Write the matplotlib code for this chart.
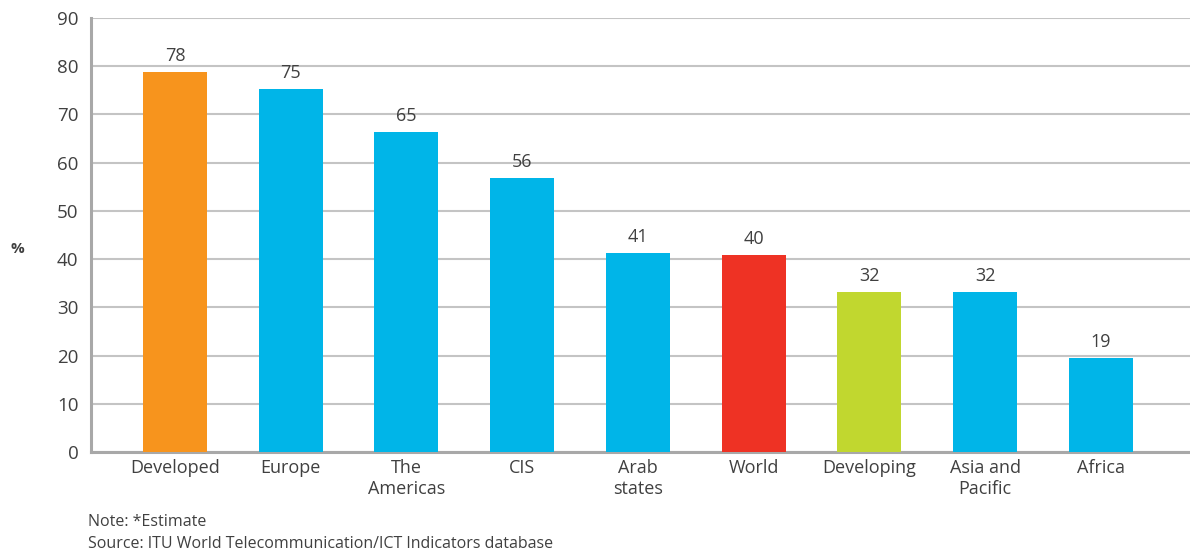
import matplotlib.pyplot as plt

# data
regions = ["Developed", "Europe", "The\nAmericas", "CIS", "Arab\nstates", "World",
           "Developing", "Asia and\nPacific", "Africa"]
heights = [78.8, 75.3, 66.3, 56.9, 41.3, 40.8, 33.2, 33.2, 19.5]
value_labels = ["78", "75", "65", "56", "41", "40", "32", "32", "19"]
bar_colors = ["#F7941D", "#00B5E8", "#00B5E8", "#00B5E8", "#00B5E8",
              "#EE3224", "#C1D72F", "#00B5E8", "#00B5E8"]
yticks = [0, 10, 20, 30, 40, 50, 60, 70, 80, 90]

text_col = "#404040"
plt.rcParams['font.family'] = ['Open Sans', 'DejaVu Sans']

fig = plt.figure(figsize=(11.9, 5.55), dpi=100)
ax = fig.add_axes([91/1190, 103/555, 1 - 91/1190, 434/555])

x = list(range(len(regions)))
ax.bar(x, heights, width=0.553, color=bar_colors, zorder=3)

for xi, h, lab in zip(x, heights, value_labels):
    ax.annotate(lab, (xi, h), xytext=(0, 5), textcoords="offset points",
                ha="center", va="bottom", fontsize=13, color=text_col)

ax.set_xlim(-0.726, 8.77)
ax.set_ylim(0, 90)
ax.set_yticks(yticks)
ax.set_xticks(x)
ax.set_xticklabels(regions, fontsize=13, color=text_col, linespacing=1.2)
ax.tick_params(axis="y", labelsize=13.5, labelcolor=text_col, length=0, pad=9)
ax.tick_params(axis="x", length=0, pad=5)

ax.grid(axis="y", color="#C4C4C4", linewidth=1.5, zorder=0)
for s in ["top", "right"]:
    ax.spines[s].set_visible(False)
for s in ["left", "bottom"]:
    ax.spines[s].set_color("#A8A8A8")
    ax.spines[s].set_linewidth(2.2)

fig.text(17/1190, 1 - 249/555, "%", fontsize=11, fontweight="bold", color=text_col,
         ha="center", va="center")
fig.text(88/1190, 1 - 522/555, "Note: *Estimate", fontsize=11.5, color=text_col,
         ha="left", va="center")
fig.text(88/1190, 1 - 544/555, "Source: ITU World Telecommunication/ICT Indicators database",
         fontsize=11.5, color=text_col, ha="left", va="center")

fig.savefig("out.png", dpi=100)
